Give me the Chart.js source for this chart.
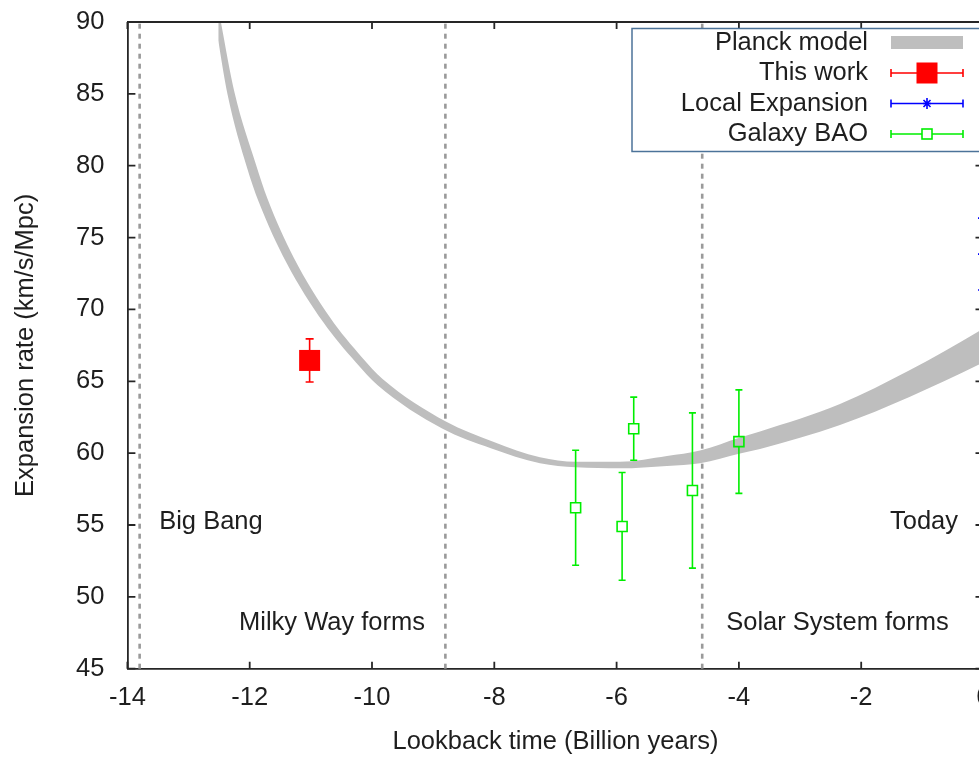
<!DOCTYPE html>
<html>
<head>
<meta charset="utf-8">
<script src="https://cdn.jsdelivr.net/npm/chart.js@4.4.1/dist/chart.umd.min.js"></script>
<style>
  html, body { margin: 0; padding: 0; overflow: hidden; background: #ffffff; }
  #wrap { position: absolute; left: 0; top: 0; width: 1000px; height: 757px; }
</style>
</head>
<body>
<div id="wrap"><canvas id="chart" width="1000" height="757"></canvas></div>
<script>
// ---- Data ----
// Planck model band: upper and lower edges, lookback time (Gyr) vs H (km/s/Mpc)
const planckUpperT = [-12.514, -12.473, -12.248, -11.894, -11.712, -11.277, -10.686, -10.163, -9.827, -8.792, -8.018, -7.253, -6.664, -5.944, -5.176, -4.636, -3.982, -3.655, -2.347, -1.202, -0.090, 0];
const planckUpperH = [91.01, 90.04, 85.09, 80.03, 77.73, 73.58, 69.43, 66.66, 65.16, 62.20, 60.80, 59.71, 59.40, 59.40, 59.80, 60.18, 61.09, 61.51, 63.42, 65.79, 68.45, 68.69];
const planckLowerT = [-12.604, -12.563, -12.363, -12.041, -11.853, -11.405, -10.796, -10.262, -9.912, -8.853, -8.057, -7.253, -6.664, -5.944, -5.176, -4.636, -3.982, -3.655, -2.347, -1.202, -0.090, 0];
const planckLowerH = [90.94, 89.97, 84.98, 79.83, 77.50, 73.30, 69.10, 66.30, 64.74, 61.71, 60.34, 59.29, 59.01, 58.94, 59.11, 59.29, 59.97, 60.29, 61.96, 63.93, 66.13, 66.33];

// This work
const thisWorkT = [-11.02];
const thisWorkH = [66.45];
const thisWorkErr = [1.5];

// Local expansion rate (today)
const localT = [0];
const localH = [73.85];
const localErr = [2.5];

// Galaxy BAO measurements
const baoT = [-6.67, -5.91, -5.72, -4.76, -4.00];
const baoH = [56.2, 54.9, 61.7, 57.4, 60.8];
const baoErr = [4.0, 3.75, 2.2, 5.4, 3.6];

// Epoch markers
const epochT = [-13.8, -8.8, -4.6];
const epochNames = ['Big Bang', 'Milky Way forms', 'Solar System forms', 'Today'];

const seriesNames = ['Planck model', 'This work', 'Local Expansion', 'Galaxy BAO'];

const xTickValues = [-14, -12, -10, -8, -6, -4, -2, 0];
const yTickValues = [45, 50, 55, 60, 65, 70, 75, 80, 85, 90];

// ---- Styling / layout ----
const FONT = "'Liberation Sans', Arial, sans-serif";
const FS = 25.5;
const TEXT = '#1e1e1e';
const FRAME = '#262626';
const RED = '#ff0000', BLUE = '#0000ff', GREEN = '#00ee00', BAND = '#bebebe';

// where the epoch captions sit, in data coordinates
const captionPos = [
  { t: -13.48, h: 55.2, align: 'left' },
  { t: -10.654, h: 48.2, align: 'center' },
  { t: -2.388, h: 48.2, align: 'center' },
  { t: -0.417, h: 55.2, align: 'right' }
];

const legendBox = { left: 632, top: 28.5, right: 1010, bottom: 151.5, textRight: 868, sampleL: 891, sampleR: 963, row0: 42.5, rowStep: 30.5 };

const pts = (ts, hs) => ts.map((t, i) => ({ x: t, y: hs[i] }));

function drawErrorBars(ctx, xs, ys, t, h, e, color, cap, gap) {
  ctx.save();
  ctx.strokeStyle = color;
  ctx.lineWidth = 1.6;
  t.forEach((tv, i) => {
    const px = xs.getPixelForValue(tv);
    const top = ys.getPixelForValue(h[i] + e[i]);
    const bot = ys.getPixelForValue(h[i] - e[i]);
    const mid = ys.getPixelForValue(h[i]);
    ctx.beginPath();
    if (gap) {
      ctx.moveTo(px, top); ctx.lineTo(px, mid - gap);
      ctx.moveTo(px, mid + gap); ctx.lineTo(px, bot);
    } else {
      ctx.moveTo(px, top); ctx.lineTo(px, bot);
    }
    ctx.moveTo(px - cap, top); ctx.lineTo(px + cap, top);
    ctx.moveTo(px - cap, bot); ctx.lineTo(px + cap, bot);
    ctx.stroke();
  });
  ctx.restore();
}

const errorBarPlugin = {
  id: 'errorBars',
  beforeDatasetDraw(chart, args) {
    if (args.index !== 2) return; // first marker dataset to be painted
    const { ctx, scales: { x, y } } = chart;
    drawErrorBars(ctx, x, y, baoT, baoH, baoErr, GREEN, 3.5, 5);
    drawErrorBars(ctx, x, y, localT, localH, localErr, BLUE, 5.5, 0);
    drawErrorBars(ctx, x, y, thisWorkT, thisWorkH, thisWorkErr, RED, 4, 0);
  }
};

const framePlugin = {
  id: 'frame',
  beforeDatasetsDraw(chart) {
    const { ctx, chartArea: a, scales: { x } } = chart;
    ctx.save();
    ctx.strokeStyle = '#9a9a9a';
    ctx.lineWidth = 2.6;
    ctx.setLineDash([5, 5]);
    epochT.forEach(t => {
      const px = x.getPixelForValue(t);
      ctx.beginPath();
      ctx.moveTo(px, a.bottom);
      ctx.lineTo(px, a.top);
      ctx.stroke();
    });
    ctx.restore();
  },
  afterDraw(chart) {
    const { ctx, chartArea: a, scales: { x, y } } = chart;
    ctx.save();
    ctx.strokeStyle = FRAME;
    ctx.lineWidth = 1.8;
    ctx.beginPath();
    ctx.moveTo(a.left, a.top); ctx.lineTo(a.right, a.top); ctx.lineTo(a.right, a.bottom);
    // inward tick marks
    xTickValues.forEach(v => {
      const px = x.getPixelForValue(v);
      ctx.moveTo(px, a.bottom); ctx.lineTo(px, a.bottom - 7);
      ctx.moveTo(px, a.top); ctx.lineTo(px, a.top + 7);
    });
    yTickValues.forEach(v => {
      const py = y.getPixelForValue(v);
      ctx.moveTo(a.left, py); ctx.lineTo(a.left + 8, py);
      ctx.moveTo(a.right, py); ctx.lineTo(a.right - 8, py);
    });
    ctx.stroke();

    // epoch captions
    ctx.fillStyle = TEXT;
    ctx.font = FS + 'px ' + FONT;
    ctx.textBaseline = 'middle';
    captionPos.forEach((p, i) => {
      ctx.textAlign = p.align;
      ctx.fillText(epochNames[i], x.getPixelForValue(p.t), y.getPixelForValue(p.h));
    });

    // legend
    const L = legendBox;
    ctx.fillStyle = '#ffffff';
    ctx.fillRect(L.left, L.top, L.right - L.left, L.bottom - L.top);
    ctx.strokeStyle = '#4c7399';
    ctx.lineWidth = 1.5;
    ctx.strokeRect(L.left, L.top, L.right - L.left, L.bottom - L.top);
    ctx.fillStyle = TEXT;
    ctx.textAlign = 'right';
    seriesNames.forEach((name, i) => {
      ctx.fillText(name, L.textRight, L.row0 + i * L.rowStep);
    });
    const mid = (L.sampleL + L.sampleR) / 2;
    // Planck band swatch
    ctx.fillStyle = BAND;
    ctx.fillRect(L.sampleL, L.row0 - 6.5, L.sampleR - L.sampleL, 13);
    const sampleBar = (row, color) => {
      const yy = L.row0 + row * L.rowStep;
      ctx.strokeStyle = color;
      ctx.lineWidth = 1.6;
      ctx.beginPath();
      ctx.moveTo(L.sampleL, yy); ctx.lineTo(L.sampleR, yy);
      ctx.moveTo(L.sampleL, yy - 4); ctx.lineTo(L.sampleL, yy + 4);
      ctx.moveTo(L.sampleR, yy - 4); ctx.lineTo(L.sampleR, yy + 4);
      ctx.stroke();
      return yy;
    };
    let yy = sampleBar(1, RED);
    ctx.fillStyle = RED;
    ctx.fillRect(mid - 10.5, yy - 10.5, 21, 21);
    yy = sampleBar(2, BLUE);
    ctx.strokeStyle = BLUE;
    ctx.beginPath();
    ctx.moveTo(mid - 4, yy); ctx.lineTo(mid + 4, yy);
    ctx.moveTo(mid, yy - 5.5); ctx.lineTo(mid, yy + 5.5);
    ctx.moveTo(mid - 3.5, yy - 3.5); ctx.lineTo(mid + 3.5, yy + 3.5);
    ctx.moveTo(mid - 3.5, yy + 3.5); ctx.lineTo(mid + 3.5, yy - 3.5);
    ctx.stroke();
    yy = sampleBar(3, GREEN);
    ctx.fillStyle = '#ffffff';
    ctx.fillRect(mid - 5, yy - 5, 10, 10);
    ctx.strokeStyle = GREEN;
    ctx.strokeRect(mid - 5, yy - 5, 10, 10);
    ctx.restore();
  }
};

const tickFont = { family: FONT, size: FS };

new Chart(document.getElementById('chart'), {
  type: 'scatter',
  data: {
    datasets: [
      { label: seriesNames[1], data: pts(thisWorkT, thisWorkH), pointStyle: 'rect', pointRadius: 14.85, pointHoverRadius: 14.85,
        backgroundColor: RED, borderColor: RED, borderWidth: 0, clip: false },
      { label: seriesNames[2], data: pts(localT, localH), pointStyle: 'star', pointRadius: 5.5, pointHoverRadius: 5.5,
        backgroundColor: BLUE, borderColor: BLUE, borderWidth: 1.6, clip: false },
      { label: seriesNames[3], data: pts(baoT, baoH), pointStyle: 'rect', pointRadius: 7.07, pointHoverRadius: 7.07,
        backgroundColor: 'rgba(0,0,0,0)', borderColor: GREEN, borderWidth: 1.6, clip: false },
      { type: 'line', label: seriesNames[0], data: pts(planckUpperT, planckUpperH), showLine: true, pointRadius: 0,
        borderWidth: 0, borderColor: BAND, backgroundColor: BAND, fill: '+1', cubicInterpolationMode: 'monotone' },
      { type: 'line', label: seriesNames[0] + ' (lower)', data: pts(planckLowerT, planckLowerH), showLine: true, pointRadius: 0,
        borderWidth: 0, borderColor: BAND, backgroundColor: BAND, fill: false, cubicInterpolationMode: 'monotone' }
    ]
  },
  options: {
    responsive: false,
    animation: false,
    devicePixelRatio: 1,
    layout: { padding: { left: 0, right: 16.5, top: 22, bottom: 0 } },
    plugins: { legend: { display: false }, tooltip: { enabled: false } },
    scales: {
      x: {
        type: 'linear', min: -14, max: 0,
        afterBuildTicks: s => { s.ticks = xTickValues.map(v => ({ value: v })); },
        afterFit: s => { s.height = 88.3; },
        // tick marks are drawn inward by the frame plugin; tickLength only spaces the labels
        grid: { display: false, drawTicks: true, tickLength: 14 },
        border: { display: true, color: FRAME, width: 1.8 },
        ticks: { font: tickFont, color: TEXT, padding: 0, maxRotation: 0, autoSkip: false },
        title: { display: true, text: 'Lookback time (Billion years)', font: tickFont, color: TEXT, padding: { top: 0, bottom: 0 } }
      },
      y: {
        type: 'linear', min: 45, max: 90,
        afterBuildTicks: s => { s.ticks = yTickValues.map(v => ({ value: v })); },
        afterFit: s => { s.width = 127.4; },
        grid: { display: false, drawTicks: true, tickLength: 23 },
        border: { display: true, color: FRAME, width: 1.8 },
        ticks: { font: tickFont, color: TEXT, padding: 0 },
        title: { display: true, text: 'Expansion rate (km/s/Mpc)', font: tickFont, color: TEXT, padding: { top: 10.7, bottom: 0 } }
      }
    }
  },
  plugins: [framePlugin, errorBarPlugin]
});
</script>
</body>
</html>
